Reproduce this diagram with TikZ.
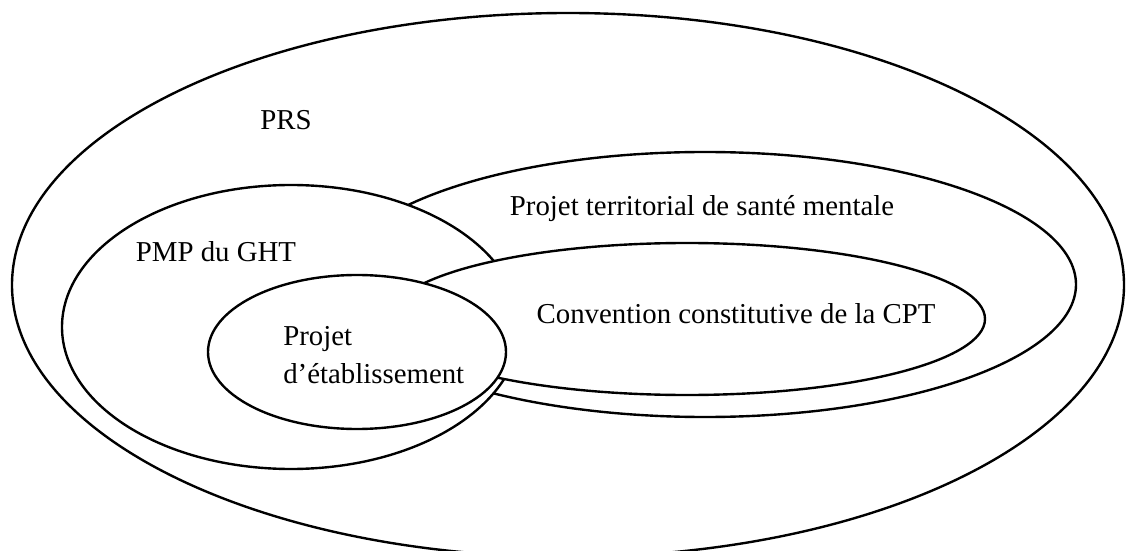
\documentclass[tikz,border=0pt]{standalone}
\usepackage{fontspec}
\setmainfont{Liberation Serif}

\begin{document}
\begin{tikzpicture}[x=0.025cm, y=-0.025cm,
  set/.style={black, line width=1.7pt, fill=white},
  lbl/.style={font=\fontsize{20.5}{26.5}\selectfont, inner sep=0pt}]

  \useasboundingbox (0, 0) rectangle (1126, 551);

% PRS region
  \draw[set, fill=none] (568, 285) ellipse [x radius=556, y radius=272];
  \node[lbl, anchor=base] (prs) at (286, 130) {PRS};

% Projet territorial region
  \draw[set] (705, 284.5) ellipse [x radius=371, y radius=132.5];
  \node[lbl, anchor=base] (pts) at (702, 216) {Projet territorial de sant\'e mentale};

% PMP region
  \draw[set] (291, 327) ellipse [x radius=229, y radius=142];
  \node[lbl, anchor=base] (pmp) at (216, 262) {PMP du GHT};

% Convention region
  \draw[set] (687, 319) ellipse [x radius=298, y radius=76];
  \node[lbl, anchor=base] (cpt) at (736, 323) {Convention constitutive de la CPT};

% Projet d'etablissement region
  \draw[set] (357, 352) ellipse [x radius=149, y radius=77];
  \node[lbl, anchor=base west, align=left] (etab) at (283, 383) {Projet\\d’\'etablissement};

\end{tikzpicture}
\end{document}
